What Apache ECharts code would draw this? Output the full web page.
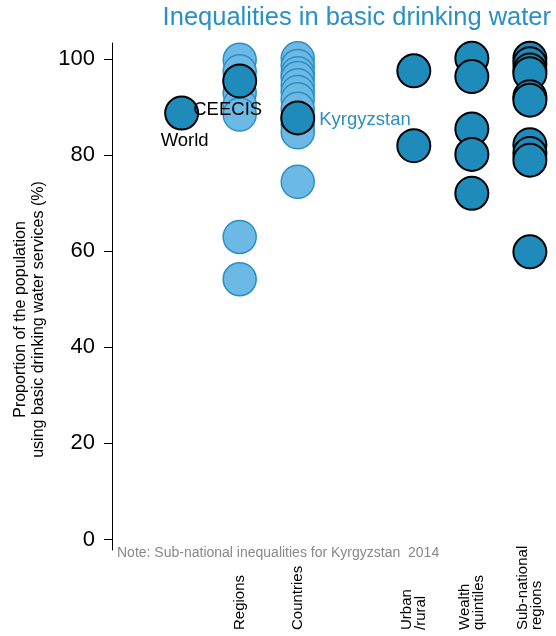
<!DOCTYPE html>
<html><head><meta charset="utf-8">
<script src="https://cdn.jsdelivr.net/npm/echarts@6/dist/echarts.min.js"></script>
<style>html,body{margin:0;padding:0;background:#fff}#c{width:556px;height:636px}</style>
</head><body><div id="c"></div>
<script>
// Column positions (x) and names
const groupPos = {World:1, Regions:2, Countries:3, Urban:5, Wealth:6, Subnational:7};
const tickLabels = {2:'Regions', 3:'Countries', 5:'Urban\n/rural', 6:'Wealth\nquintiles', 7:'Sub-national\nregions'};
const yTicks = [0, 20, 40, 60, 80, 100];

// Values (%)
const worldVal = [88.8];
const regionVals = [99.9, 97.5, 93, 90.5, 88.5, 63.0, 54.2];
const ceecisVal = [95.5];
const countryVals = [100.2, 98.6, 97.1, 96.1, 94.6, 93.2, 91.7, 89.7, 86.3, 84.8, 74.5];
const kyrgyzVal = [87.8];
const urbanVals = [97.6, 82.0];
const wealthVals = [100.2, 96.4, 85.5, 80.2, 72.1];
const subnatVals = [100.2, 99.1, 97.8, 97.0, 92.2, 91.5, 82.2, 80.4, 79.0, 59.9];

const font = 'Liberation Sans, Arial, sans-serif';
const light = '#6cb9e5', lightBorder = '#2b8fc4', dark = '#1f8bba';
const pts = (x, arr) => arr.map(v => [x, v]);

const chart = echarts.init(document.getElementById('c'));
chart.setOption({
  animation: false,
  textStyle: {fontFamily: font},
  title: [
    {text: 'Inequalities in basic drinking water', right: 5, top: 5, padding: 0,
     textStyle: {color: '#2a8fc6', fontSize: 25.5, fontWeight: 'normal', fontFamily: font}},
    {text: 'Note: Sub-national inequalities for Kyrgyzstan  2014', left: 117, top: 546, padding: 0,
     textStyle: {color: '#888', fontSize: 14, fontWeight: 'normal', fontFamily: font}}
  ],
  grid: {left: 112, right: 0, top: 43, bottom: 86, containLabel: false, outerBoundsMode: 'none'},
  xAxis: {
    type: 'value', min: -0.2, max: 7.45,
    axisLine: {show: false}, axisTick: {show: false}, splitLine: {show: false},
    axisLabel: {
      customValues: [2, 3, 5, 6, 7], rotate: 90, margin: 80, align: 'left',
      fontSize: 15, color: '#000', fontFamily: font, lineHeight: 14,
      formatter: v => tickLabels[v] || ''
    }
  },
  yAxis: {
    type: 'value', min: -2.2, max: 103.4,
    name: 'Proportion of the population\nusing basic drinking water services (%)',
    nameLocation: 'middle', nameRotate: 90, nameGap: 62,
    nameTextStyle: {fontSize: 16, color: '#000', fontFamily: font, lineHeight: 18, padding: [0, 46, 0, 0]},
    axisLine: {show: true, onZero: false, lineStyle: {color: '#000', width: 1}},
    axisTick: {show: true, customValues: yTicks, length: 8, lineStyle: {color: '#000'}},
    axisLabel: {customValues: yTicks, fontSize: 22, color: '#000', margin: 17, fontFamily: font},
    splitLine: {show: false}
  },
  series: [
    {type: 'scatter', symbolSize: 33, z: 2,
     itemStyle: {color: light, borderColor: lightBorder, borderWidth: 1.5, opacity: 1},
     data: pts(groupPos.Regions, regionVals).concat(pts(groupPos.Countries, countryVals))},
    {type: 'scatter', symbolSize: 33, z: 3,
     itemStyle: {color: dark, borderColor: '#000', borderWidth: 2, opacity: 1},
     data: pts(groupPos.Urban, urbanVals).concat(pts(groupPos.Wealth, wealthVals), pts(groupPos.Subnational, subnatVals))},
    {type: 'scatter', symbolSize: 33, z: 4,
     itemStyle: {color: dark, borderColor: '#000', borderWidth: 2, opacity: 1},
     label: {show: true, position: 'bottom', distance: 1, offset: [3, 0], formatter: 'World',
             fontSize: 18.5, color: '#000', fontFamily: font},
     data: pts(groupPos.World, worldVal)},
    {type: 'scatter', symbolSize: 33, z: 4,
     itemStyle: {color: dark, borderColor: '#000', borderWidth: 2, opacity: 1},
     label: {show: true, position: 'bottom', distance: 2, offset: [-12, 0], formatter: 'CEECIS',
             fontSize: 18.5, color: '#000', fontFamily: font},
     data: pts(groupPos.Regions, ceecisVal)},
    {type: 'scatter', symbolSize: 33, z: 4,
     itemStyle: {color: dark, borderColor: '#000', borderWidth: 2, opacity: 1},
     label: {show: true, position: 'right', distance: 4, offset: [0, 2], formatter: 'Kyrgyzstan',
             fontSize: 18.5, color: '#2a8fc6', fontFamily: font},
     data: pts(groupPos.Countries, kyrgyzVal)}
  ]
});
</script></body></html>
